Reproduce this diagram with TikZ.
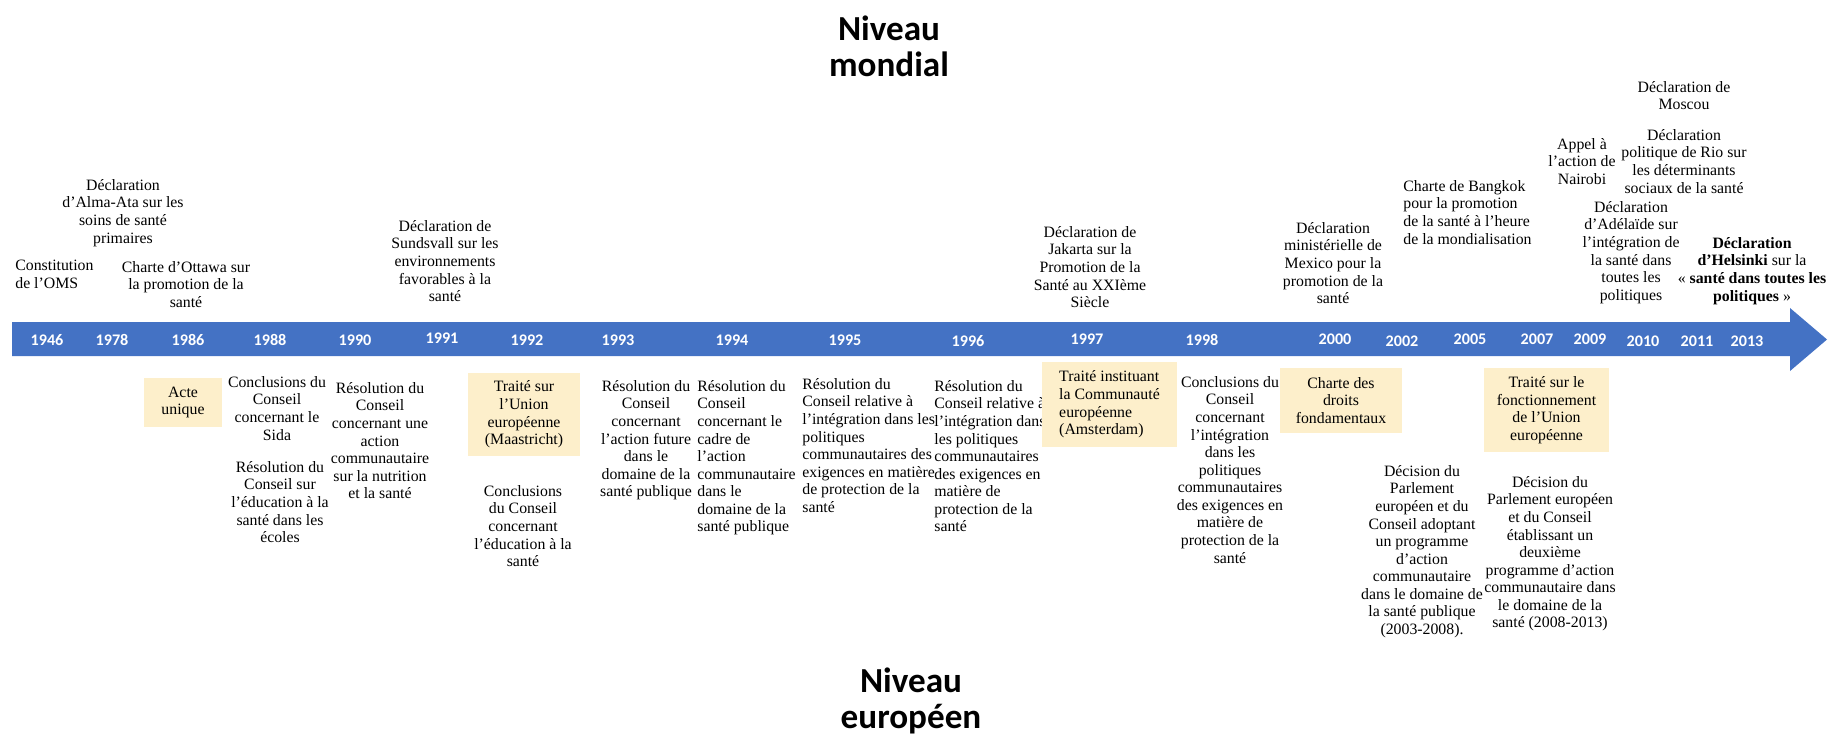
\documentclass[tikz,border=0pt]{standalone}
\usepackage{fontspec}
\setmainfont{Liberation Serif}
\newfontfamily\titlefont{Carlito}
\definecolor{axisblue}{HTML}{4472C4}
\definecolor{eubeige}{HTML}{FDEFCB}
\newcommand{\txt}{\fontsize{9}{10}\selectfont}
\tikzset{
  evt/.style={align=center, inner sep=0pt, anchor=north, font=\txt},
  evtl/.style={align=left, inner sep=0pt, anchor=north west, font=\txt},
  eubox/.style={fill=eubeige, align=center, inner sep=0pt, font=\txt},
  year/.style={text=white, inner sep=0pt, font=\titlefont\bfseries\fontsize{9.2}{10}\selectfont},
  level/.style={align=center, inner sep=0pt, anchor=north, font=\titlefont\bfseries\fontsize{20}{21}\selectfont}
}
\begin{document}
\begin{tikzpicture}[x=0.02cm, y=-0.02cm]
  \useasboundingbox (0,0) rectangle (1834,736);

  % Time axis (draw first)
  \fill[axisblue] (12,322) -- (1790,322) -- (1790,308) -- (1827,339.5)
    -- (1790,371) -- (1790,356) -- (12,356) -- cycle;

  % Years on the axis
  \node[year] (y1946) at (47,340) {1946};
  \node[year] (y1978) at (112,340) {1978};
  \node[year] (y1986) at (188,340) {1986};
  \node[year] (y1988) at (270,340) {1988};
  \node[year] (y1990) at (355,340) {1990};
  \node[year] (y1991) at (442,338) {1991};
  \node[year] (y1992) at (527,340) {1992};
  \node[year] (y1993) at (618,340) {1993};
  \node[year] (y1994) at (732,340) {1994};
  \node[year] (y1995) at (845,340) {1995};
  \node[year] (y1996) at (968,341) {1996};
  \node[year] (y1997) at (1087,339) {1997};
  \node[year] (y1998) at (1202,340) {1998};
  \node[year] (y2000) at (1335,339) {2000};
  \node[year] (y2002) at (1402,341) {2002};
  \node[year] (y2005) at (1470,339) {2005};
  \node[year] (y2007) at (1537,339) {2007};
  \node[year] (y2009) at (1590,339) {2009};
  \node[year] (y2010) at (1643,341) {2010};
  \node[year] (y2011) at (1697,341) {2011};
  \node[year] (y2013) at (1747,341) {2013};

  % Level titles
  \node[level] (mondial) at (889,15) {Niveau\\mondial};
  \node[level] (europeen) at (911,667) {Niveau\\européen};

  % World level (above the axis)
  \node[evtl] (oms) at (15,260) {Constitution\\de l'OMS};
  \node[evt] (almaata) at (123,179) {Déclaration\\d'Alma-Ata sur les\\soins de santé\\primaires};
  \node[evt] (ottawa) at (186,261) {Charte d'Ottawa sur\\la promotion de la\\santé};
  \node[evt] (sundsvall) at (445,220) {Déclaration de\\Sundsvall sur les\\environnements\\favorables à la\\santé};
  \node[evt] (jakarta) at (1090,226) {Déclaration de\\Jakarta sur la\\Promotion de la\\Santé au XXIème\\Siècle};
  \node[evt] (mexico) at (1333,222) {Déclaration\\ministérielle de\\Mexico pour la\\promotion de la\\santé};
  \node[evtl] (bangkok) at (1403,180) {Charte de Bangkok\\pour la promotion\\de la santé à l'heure\\de la mondialisation};
  \node[evt] (nairobi) at (1582,138) {Appel à\\l'action de\\Nairobi};
  \node[evt] (moscou) at (1684,81) {Déclaration de\\Moscou};
  \node[evt] (rio) at (1684,129) {Déclaration\\politique de Rio sur\\les déterminants\\sociaux de la santé};
  \node[evt] (adelaide) at (1631,201) {Déclaration\\d'Adélaïde sur\\l'intégration de\\la santé dans\\toutes les\\politiques};
  \node[evt] (helsinki) at (1752,237) {\textbf{Déclaration}\\\textbf{d'Helsinki} sur la\\«~\textbf{santé dans toutes les}\\\textbf{politiques}~»};

  % European level (below the axis)
  \node[eubox, minimum width=1.56cm, minimum height=0.98cm] (acte) at (183,402.5) {Acte\\unique};
  \node[evt] (sida) at (277,376) {Conclusions du\\Conseil\\concernant le\\Sida};
  \node[evt] (ecoles) at (280,461) {Résolution du\\Conseil sur\\l'éducation à la\\santé dans les\\écoles};
  \node[evt] (nutrition) at (380,382) {Résolution du\\Conseil\\concernant une\\action\\communautaire\\sur la nutrition\\et la santé};
  \node[eubox, minimum width=2.24cm, minimum height=1.66cm] (maastricht) at (524,414.5) {Traité sur\\l'Union\\européenne\\(Maastricht)};
  \node[evt] (educ) at (523,485) {Conclusions\\du Conseil\\concernant\\l'éducation à la\\santé};
  \node[evt] (action) at (646,380) {Résolution du\\Conseil\\concernant\\l'action future\\dans le\\domaine de la\\santé publique};
  \node[evtl] (cadre) at (697,380) {Résolution du\\Conseil\\concernant le\\cadre de\\l'action\\communautaire\\dans le\\domaine de la\\santé publique};
  \node[evtl] (integ95) at (802,378) {Résolution du\\Conseil relative à\\l'intégration dans les\\politiques\\communautaires des\\exigences en matière\\de protection de la\\santé};
  \node[evtl] (integ96) at (934,380) {Résolution du\\Conseil relative à\\l'intégration dans\\les politiques\\communautaires\\des exigences en\\matière de\\protection de la\\santé};
  \node[eubox, align=left, minimum width=2.7cm, minimum height=1.7cm] (amsterdam) at (1109.5,404.5) {Traité instituant\\la Communauté\\européenne\\(Amsterdam)};
  \node[evt] (integ98) at (1230,376) {Conclusions du\\Conseil\\concernant\\l'intégration\\dans les\\politiques\\communautaires\\des exigences en\\matière de\\protection de la\\santé};
  \node[eubox, minimum width=2.44cm, minimum height=1.3cm] (charte) at (1341,400.5) {Charte des\\droits\\fondamentaux};
  \node[evt] (prog2003) at (1422,465) {Décision du\\Parlement\\européen et du\\Conseil adoptant\\un programme\\d'action\\communautaire\\dans le domaine de\\la santé publique\\(2003-2008).};
  \node[eubox, minimum width=2.5cm, minimum height=1.68cm] (fonct) at (1546.5,410) {Traité sur le\\fonctionnement\\de l'Union\\européenne};
  \node[evt] (prog2008) at (1550,476) {Décision du\\Parlement européen\\et du Conseil\\établissant un\\deuxième\\programme d'action\\communautaire dans\\le domaine de la\\santé (2008-2013)};

\end{tikzpicture}
\end{document}
